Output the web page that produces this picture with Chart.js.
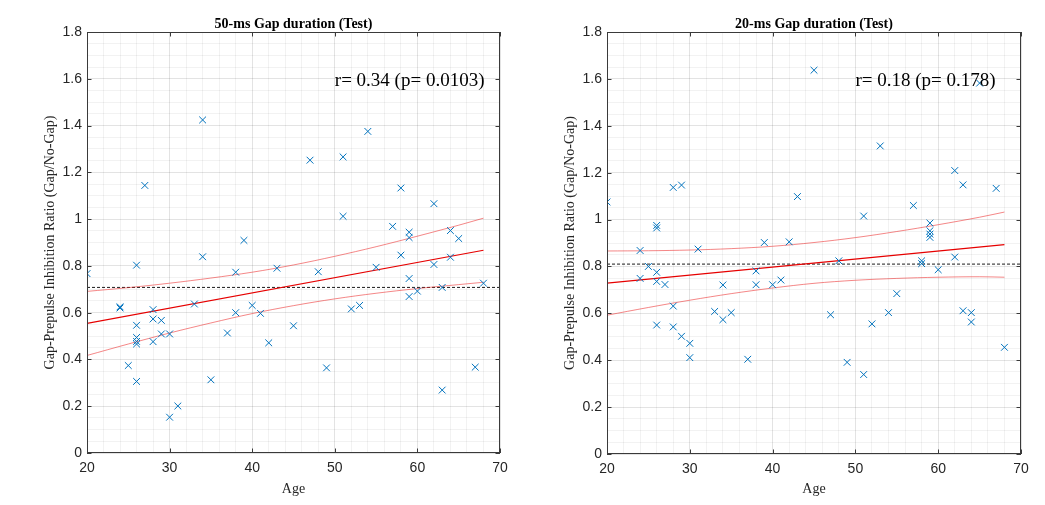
<!DOCTYPE html>
<html><head><meta charset="utf-8">
<script src="https://cdn.jsdelivr.net/npm/chart.js@4.4.1/dist/chart.umd.min.js"></script>
<style>
html,body{margin:0;padding:0;background:#fff;width:1045px;height:505px;overflow:hidden}
canvas{position:absolute;top:0}
#c1{left:0}
#c2{left:520px}
</style></head><body>
<canvas id="c1" width="520" height="505"></canvas>
<canvas id="c2" width="525" height="505"></canvas>
<script>
// ---- data ----
const xTicks = [20, 30, 40, 50, 60, 70];
const yTicks = [0, 0.2, 0.4, 0.6, 0.8, 1, 1.2, 1.4, 1.6, 1.8];

const ages50 = [20,24,24,25,26,26,26,26,26,26,27,28,28,28,29,29,30,30,31,33,34,34,35,37,38,38,39,40,41,42,43,45,47,48,49,51,51,52,53,54,55,57,58,58,59,59,59,59,60,62,62,63,63,64,64,65,67,68];
const ratios50 = [0.767,0.620,0.625,0.374,0.803,0.546,0.494,0.477,0.466,0.306,1.144,0.613,0.573,0.476,0.567,0.509,0.509,0.153,0.201,0.637,1.424,0.839,0.313,0.513,0.773,0.600,0.909,0.631,0.597,0.471,0.790,0.544,1.252,0.775,0.364,1.266,1.012,0.616,0.631,1.375,0.794,0.969,1.133,0.846,0.944,0.921,0.746,0.669,0.692,1.066,0.806,0.708,0.269,0.951,0.837,0.917,0.367,0.726];

const ages20 = [20,24,24,25,26,26,26,26,26,27,28,28,28,29,29,30,30,31,33,34,34,35,37,38,38,39,40,41,42,43,45,47,48,49,51,51,52,53,54,55,57,58,58,59,59,59,59,60,62,62,63,63,64,64,65,67,68];
const ratios20 = [1.075,0.868,0.749,0.800,0.975,0.964,0.775,0.736,0.550,0.723,1.137,0.631,0.542,1.147,0.502,0.472,0.411,0.874,0.608,0.721,0.573,0.603,0.404,0.781,0.722,0.902,0.722,0.742,0.905,1.098,1.637,0.594,0.824,0.391,1.015,0.339,0.555,1.314,0.603,0.684,1.060,0.824,0.812,0.985,0.952,0.938,0.924,0.786,1.209,0.840,1.148,0.611,0.603,0.563,1.582,1.133,0.455];

const fitAges = [20, 68];
const fit50 = [0.554, 0.867];
const fit20 = [0.729, 0.893];

const bandAges = [20, 25, 30, 35, 40, 45, 50, 55, 60, 65, 68];
const upper50 = [0.691, 0.707, 0.726, 0.748, 0.773, 0.804, 0.841, 0.882, 0.927, 0.974, 1.004];
const lower50 = [0.417, 0.466, 0.513, 0.556, 0.596, 0.630, 0.659, 0.683, 0.703, 0.720, 0.730];
const upper20 = [0.866, 0.867, 0.870, 0.876, 0.886, 0.902, 0.923, 0.949, 0.978, 1.010, 1.032];
const lower20 = [0.592, 0.625, 0.656, 0.684, 0.708, 0.728, 0.741, 0.749, 0.754, 0.756, 0.754];

const meanAges = [20, 70];
const mean50 = 0.708;
const mean20 = 0.810;

const titles = ['50-ms Gap duration (Test)', '20-ms Gap duration (Test)'];
const stats = ['r= 0.34 (p= 0.0103)', 'r= 0.18 (p= 0.178)'];
const statPos = {x: 50, y: 1.59};

// ---- helpers ----
const pts = (xs, ys) => xs.map((x, i) => ({x, y: ys[i]}));
const AX = '#262626';
const SERIF = '"Liberation Serif", "Times New Roman", serif';
const SANS = '"Liberation Sans", Arial, Helvetica, sans-serif';

const decor = {
  id: 'decor',
  afterDraw(chart, args, o) {
    const {ctx, chartArea: a, scales: {x, y}} = chart;
    ctx.save();
    ctx.strokeStyle = '#3a3a3a';
    ctx.lineWidth = 1;
    ctx.strokeRect(Math.round(a.left) + 0.5, Math.round(a.top) + 0.5,
                   Math.round(a.right - a.left) - 1, Math.round(a.bottom - a.top) - 1);
    const L = 4.5;
    ctx.beginPath();
    xTicks.forEach(v => {
      const px = Math.round(x.getPixelForValue(v)) + 0.5;
      ctx.moveTo(px, a.bottom); ctx.lineTo(px, a.bottom - L);
      ctx.moveTo(px, a.top); ctx.lineTo(px, a.top + L);
    });
    yTicks.forEach(v => {
      const py = Math.round(y.getPixelForValue(v)) + 0.5;
      ctx.moveTo(a.left, py); ctx.lineTo(a.left + L, py);
      ctx.moveTo(a.right, py); ctx.lineTo(a.right - L, py);
    });
    ctx.stroke();
    ctx.fillStyle = '#000';
    ctx.font = 'bold 14px ' + SERIF;
    ctx.textAlign = 'center';
    ctx.textBaseline = 'alphabetic';
    ctx.fillText(o.title, (a.left + a.right) / 2, 28);
    ctx.font = '19px ' + SERIF;
    ctx.textAlign = 'left';
    ctx.textBaseline = 'middle';
    ctx.fillText(o.stat, x.getPixelForValue(statPos.x), y.getPixelForValue(statPos.y));
    ctx.restore();
  }
};

function makeChart(id, ages, ratios, fit, upper, lower, mean, title, stat, padRight, xHeight) {
  const gridColor = (major) => major ? 'rgba(38,38,38,0.13)' : 'rgba(38,38,38,0.06)';
  return new Chart(document.getElementById(id), {
    type: 'scatter',
    data: {
      datasets: [
        {data: pts(ages, ratios), pointStyle: 'crossRot', pointRadius: 4.8, pointBorderWidth: 1,
         borderColor: 'rgb(0,114,189)', backgroundColor: 'rgb(0,114,189)', showLine: false},
        {data: pts(fitAges, fit), showLine: true, pointRadius: 0, borderColor: 'rgb(230,0,0)', borderWidth: 1.2, fill: false},
        {data: pts(bandAges, upper), showLine: true, pointRadius: 0, borderColor: 'rgba(235,40,40,0.7)', borderWidth: 0.8, tension: 0.35, fill: false},
        {data: pts(bandAges, lower), showLine: true, pointRadius: 0, borderColor: 'rgba(235,40,40,0.7)', borderWidth: 0.8, tension: 0.35, fill: false},
        {data: pts(meanAges, [mean, mean]), showLine: true, pointRadius: 0, borderColor: '#000', borderWidth: 0.9, borderDash: [3, 2], fill: false}
      ]
    },
    options: {
      responsive: false,
      animation: false,
      events: [],
      layout: {padding: {top: 32, right: padRight, bottom: 0, left: 0}},
      plugins: {legend: {display: false}, tooltip: {enabled: false}, decor: {title, stat}},
      scales: {
        x: {
          type: 'linear', min: 20, max: 70,
          ticks: {stepSize: 2, autoSkip: false, maxRotation: 0, padding: 7, color: AX,
                  font: {family: SANS, size: 14},
                  callback: v => (Math.round(v) % 10 === 0 ? String(Math.round(v)) : '')},
          grid: {drawTicks: false, lineWidth: 1,
                 color: c => gridColor(Math.round(c.tick.value) % 10 === 0)},
          border: {display: false},
          title: {display: true, text: 'Age', color: AX, font: {family: SERIF, size: 14},
                  padding: {top: 0, bottom: 7}},
          afterFit: s => { s.height = xHeight; }
        },
        y: {
          type: 'linear', min: 0, max: 1.8,
          ticks: {stepSize: 0.05, autoSkip: false, padding: 5, color: AX,
                  font: {family: SANS, size: 14},
                  callback: v => { const k = Math.round(v * 100); return k % 20 === 0 ? String(k / 100) : ''; }},
          grid: {drawTicks: false, lineWidth: 1,
                 color: c => gridColor(Math.round(c.tick.value * 100) % 20 === 0)},
          border: {display: false},
          title: {display: true, text: 'Gap-Prepulse Inhibition Ratio (Gap/No-Gap)', color: AX,
                  font: {family: SERIF, size: 14}, padding: {top: 42, bottom: 0}},
          afterFit: s => { s.width = 87; }
        }
      }
    },
    plugins: [decor]
  });
}

makeChart('c1', ages50, ratios50, fit50, upper50, lower50, mean50, titles[0], stats[0], 20, 52);
makeChart('c2', ages20, ratios20, fit20, upper20, lower20, mean20, titles[1], stats[1], 24, 51);
</script>
</body></html>
